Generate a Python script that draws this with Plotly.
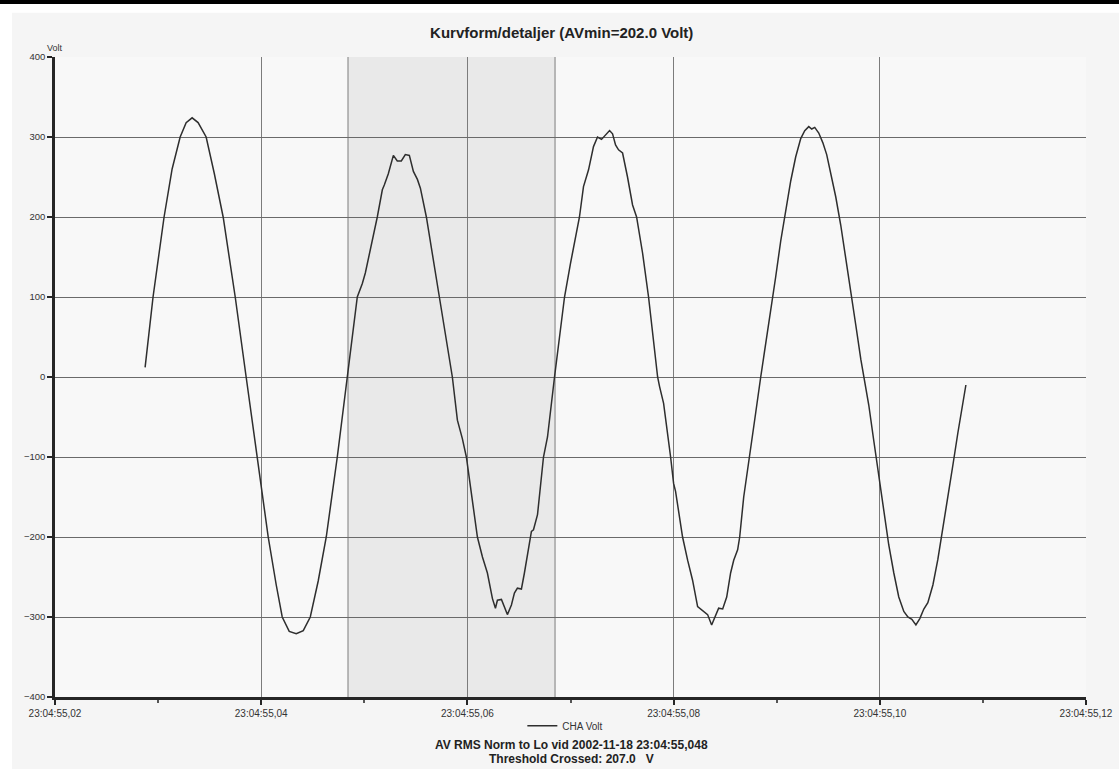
import plotly.graph_objects as go

# Time in milliseconds after 23:04:55 and phase voltage (V) of channel A
time_ms = [
    28.74, 29.51, 30.58, 31.36, 32.14, 32.72, 33.30, 33.88, 34.66, 35.44,
    36.31, 37.48, 38.54, 39.61, 40.68, 41.46, 42.04, 42.72, 43.40, 44.08,
    44.76, 45.53, 46.31, 47.38, 48.35, 49.32, 49.81, 50.10, 51.26, 51.75,
    51.94, 52.33, 52.82, 53.20, 53.59, 53.98, 54.37, 54.76, 55.15, 55.44,
    56.02, 56.21, 57.28, 58.54, 59.03, 59.51, 59.90, 60.97, 61.46, 61.94,
    62.43, 62.72, 62.91, 63.30, 63.50, 63.88, 64.27, 64.56, 64.85, 65.24,
    65.53, 65.92, 66.21, 66.41, 66.80, 67.38, 67.77, 68.45, 68.74, 69.03,
    69.42, 70.00, 70.49, 70.87, 71.26, 71.75, 72.23, 72.62, 73.01, 73.40,
    73.79, 74.08, 74.37, 74.66, 75.05, 75.53, 76.02, 76.41, 76.99, 77.57,
    78.45, 78.64, 79.03, 79.71, 80.00, 80.19, 80.87, 81.36, 81.84, 82.33,
    82.82, 83.30, 83.69, 84.08, 84.37, 84.76, 85.15, 85.53, 85.83, 86.21,
    86.41, 86.80, 87.09, 87.38, 87.96, 88.45, 88.93, 89.42, 89.90, 90.39,
    90.87, 91.36, 91.84, 92.33, 92.72, 93.11, 93.40, 93.69, 94.08, 94.47,
    94.85, 95.24, 95.73, 96.21, 96.70, 97.18, 97.67, 98.16, 98.45, 98.93,
    99.42, 99.90, 100.39, 100.87, 101.36, 101.84, 102.33, 102.72, 103.11, 103.50,
    103.88, 104.27, 104.66, 105.15, 105.63, 106.12, 106.60, 107.09, 107.57, 107.96,
    108.35,
]
cha_volt = [
    12, 100, 200, 260, 300, 318, 324, 318, 300, 255,
    200, 100, 0, -100, -200, -260, -300, -318, -321, -317,
    -300, -255, -200, -100, 0, 100, 117, 130, 200, 234,
    240, 254, 277, 270, 270, 278, 277, 257, 247, 236,
    200, 184, 100, 0, -54, -77, -100, -200, -225, -245,
    -277, -289, -279, -278, -285, -297, -285, -270, -264, -265,
    -245, -212, -193, -191, -172, -100, -75, 0, 30, 55,
    100, 142, 173, 200, 238, 259, 288, 300, 297, 302,
    308, 304, 290, 284, 280, 250, 215, 200, 155, 100,
    0, -12, -33, -100, -133, -143, -200, -229, -254, -287,
    -292, -297, -310, -297, -289, -290, -275, -245, -229, -216,
    -200, -150, -125, -100, -45, 0, 40, 80, 125, 170,
    210, 245, 275, 298, 308, 313, 310, 312, 305, 293,
    278, 255, 225, 190, 150, 110, 65, 22, 0, -35,
    -80, -125, -170, -210, -245, -275, -293, -300, -303, -310,
    -302, -290, -282, -260, -228, -190, -150, -110, -70, -40,
    -10,
]

# Axis ticks
x_ticks = [20, 40, 60, 80, 100, 120]
x_tick_labels = ["23:04:55,02", "23:04:55,04", "23:04:55,06",
                 "23:04:55,08", "23:04:55,10", "23:04:55,12"]
y_ticks = [-400, -300, -200, -100, 0, 100, 200, 300, 400]

# Detail window (one cycle starting at the event)
window_start = 48.42
window_end = 68.5

FONT = "Liberation Sans, Arial, sans-serif"
GRID = "#7c7c7c"

fig = go.Figure()

fig.add_trace(go.Scatter(
    x=time_ms, y=cha_volt, mode="lines", name="CHA Volt",
    line=dict(color="#2e2e2e", width=1.5),
))

# Event marker above the plot
fig.add_trace(go.Scatter(
    x=[window_start], y=[405], mode="markers", showlegend=False,
    marker=dict(symbol="triangle-down", size=5, color="#8a8a8a"),
    cliponaxis=False, hoverinfo="skip",
))

# Shaded detail window with its edges
fig.add_vrect(x0=window_start, x1=window_end, fillcolor="rgba(0,0,0,0.06)",
              line_width=0, layer="below")
for xv in (window_start, window_end):
    fig.add_shape(type="line", x0=xv, x1=xv, y0=-400, y1=400,
                  line=dict(color=GRID, width=1), layer="below")

# Page edges: white border strips and the rule at the very top
fig.add_shape(type="rect", xref="paper", yref="paper", x0=-0.06, x1=-0.0417,
              y0=-0.2, y1=1.2, fillcolor="white", line_width=0, layer="below")
fig.add_shape(type="rect", xref="paper", yref="paper", x0=-0.06, x1=1.05,
              y0=1.069, y1=1.2, fillcolor="white", line_width=0, layer="below")
fig.add_shape(type="rect", xref="paper", yref="paper", x0=-0.06, x1=1.05,
              y0=1.0828, y1=1.2, fillcolor="black", line_width=0)

fig.update_layout(
    width=1119, height=769,
    margin=dict(l=55, r=33, t=57, b=72, autoexpand=False),
    paper_bgcolor="#f5f5f5",
    plot_bgcolor="#f8f8f8",
    font=dict(family=FONT, color="#333333", size=9),
    title=dict(
        text="<b>Kurvform/detaljer (AVmin=202.0 Volt)</b>",
        x=0.502, xanchor="center", y=0.957, yanchor="middle",
        font=dict(family=FONT, size=15, color="#222222"),
    ),
    showlegend=True,
    legend=dict(
        orientation="h", x=0.495, xanchor="center", y=-0.045, yanchor="middle",
        bgcolor="rgba(0,0,0,0)", font=dict(size=10, color="#333333"),
    ),
    xaxis=dict(
        range=[20, 120], tickvals=x_ticks, ticktext=x_tick_labels,
        automargin=False,
        showgrid=True, gridcolor=GRID, gridwidth=1,
        showline=True, linecolor="#262626", linewidth=2.5,
        ticks="outside", ticklen=5, tickwidth=2, tickcolor="#262626",
        minor=dict(dtick=10, ticks="outside", ticklen=3, tickcolor="#555555",
                   showgrid=False),
        zeroline=False, tickfont=dict(size=10, color="#333333"),
    ),
    yaxis=dict(
        range=[-400, 400], tickvals=y_ticks, automargin=False,
        showgrid=True, gridcolor="#6a6a6a", gridwidth=1,
        showline=True, linecolor="#262626", linewidth=2.5,
        ticks="outside", ticklen=5, tickwidth=2, tickcolor="#262626",
        zeroline=False, tickfont=dict(size=9.5, color="#333333"),
    ),
    annotations=[
        dict(text="Volt", xref="paper", yref="paper", x=0.0, y=1.014,
             showarrow=False, xanchor="center", yanchor="middle",
             font=dict(size=9, color="#333333")),
        dict(text="<b>AV RMS Norm to Lo vid 2002-11-18 23:04:55,048</b>",
             xref="paper", yref="paper", x=0.501, y=-0.075, showarrow=False,
             xanchor="center", yanchor="middle",
             font=dict(size=12, color="#222222")),
        dict(text="<b>Threshold Crossed: 207.0   V</b>",
             xref="paper", yref="paper", x=0.501, y=-0.097, showarrow=False,
             xanchor="center", yanchor="middle",
             font=dict(size=12, color="#222222")),
    ],
)

fig.write_html("out.html")
